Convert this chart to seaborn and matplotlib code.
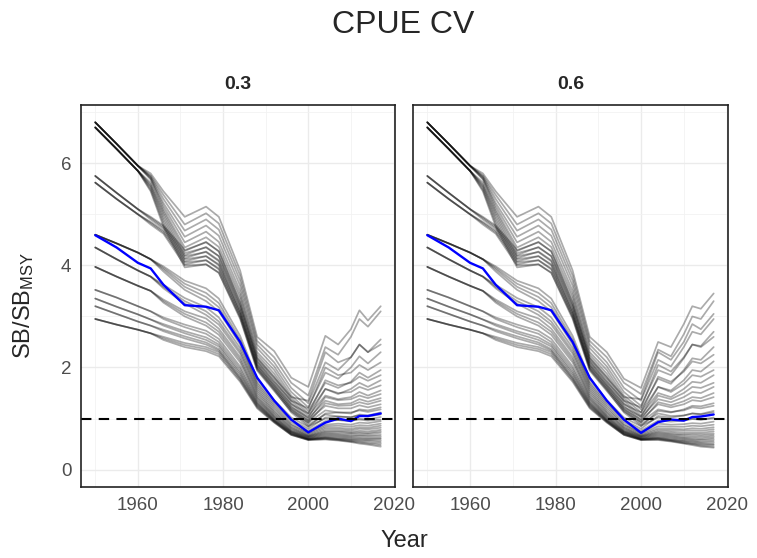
import pandas as pd
import seaborn as sns
import matplotlib.pyplot as plt
from matplotlib.ticker import MultipleLocator

# years (historical part is the same in both panels)
years_hist = [1950, 1955, 1960, 1963, 1966, 1971, 1976, 1979, 1984]
years_proj = [1988, 1992, 1996, 2000, 2004, 2007, 2010, 2012, 2014, 2017]

# SB/SBmsy per run, historical years
sb_hist = [
    [6.80, 6.38, 5.95, 5.80, 5.45, 4.95, 5.15, 4.95, 3.90],
    [6.80, 6.38, 5.95, 5.76, 5.38, 4.80, 5.02, 4.82, 3.80],
    [6.80, 6.38, 5.95, 5.74, 5.30, 4.68, 4.90, 4.70, 3.70],
    [6.80, 6.38, 5.95, 5.72, 5.22, 4.56, 4.78, 4.58, 3.60],
    [6.80, 6.38, 5.95, 5.70, 5.16, 4.45, 4.66, 4.46, 3.50],
    [6.80, 6.38, 5.95, 5.68, 5.10, 4.35, 4.55, 4.36, 3.42],
    [6.70, 6.28, 5.85, 5.62, 5.05, 4.28, 4.46, 4.27, 3.35],
    [6.70, 6.28, 5.85, 5.58, 5.00, 4.20, 4.36, 4.18, 3.28],
    [6.70, 6.28, 5.85, 5.55, 4.94, 4.14, 4.27, 4.10, 3.20],
    [6.70, 6.28, 5.85, 5.52, 4.88, 4.08, 4.18, 4.02, 3.12],
    [6.70, 6.28, 5.85, 5.48, 4.82, 4.02, 4.10, 3.94, 3.05],
    [6.70, 6.28, 5.85, 5.45, 4.76, 3.96, 4.02, 3.86, 2.98],
    [5.75, 5.42, 5.10, 4.95, 4.78, 4.30, 4.45, 4.28, 3.25],
    [5.75, 5.42, 5.10, 4.93, 4.75, 4.24, 4.35, 4.18, 3.18],
    [5.75, 5.42, 5.10, 4.90, 4.72, 4.18, 4.26, 4.08, 3.10],
    [5.62, 5.30, 5.00, 4.85, 4.68, 4.12, 4.18, 4.00, 3.05],
    [5.62, 5.30, 5.00, 4.83, 4.65, 4.06, 4.10, 3.92, 3.00],
    [5.62, 5.30, 5.00, 4.80, 4.62, 4.00, 4.02, 3.85, 2.95],
    [4.60, 4.43, 4.25, 4.12, 3.98, 3.70, 3.55, 3.35, 2.62],
    [4.60, 4.43, 4.25, 4.12, 3.95, 3.64, 3.46, 3.26, 2.55],
    [4.60, 4.43, 4.25, 4.12, 3.92, 3.58, 3.38, 3.18, 2.50],
    [4.60, 4.43, 4.25, 4.12, 3.88, 3.52, 3.30, 3.10, 2.45],
    [4.35, 4.12, 3.90, 3.78, 3.62, 3.36, 3.18, 2.98, 2.38],
    [4.35, 4.12, 3.90, 3.78, 3.58, 3.30, 3.10, 2.90, 2.32],
    [4.35, 4.12, 3.90, 3.78, 3.55, 3.25, 3.03, 2.84, 2.27],
    [3.97, 3.78, 3.60, 3.50, 3.33, 3.10, 2.96, 2.76, 2.20],
    [3.97, 3.78, 3.60, 3.50, 3.30, 3.05, 2.88, 2.70, 2.15],
    [3.97, 3.78, 3.60, 3.50, 3.27, 3.00, 2.82, 2.64, 2.10],
    [3.52, 3.37, 3.20, 3.10, 2.98, 2.84, 2.72, 2.56, 2.02],
    [3.52, 3.37, 3.20, 3.10, 2.95, 2.79, 2.66, 2.50, 1.97],
    [3.35, 3.19, 3.04, 2.94, 2.85, 2.71, 2.59, 2.45, 1.92],
    [3.35, 3.19, 3.04, 2.94, 2.82, 2.67, 2.54, 2.41, 1.88],
    [3.20, 3.05, 2.90, 2.82, 2.74, 2.61, 2.49, 2.36, 1.84],
    [3.20, 3.05, 2.90, 2.82, 2.71, 2.57, 2.45, 2.33, 1.80],
    [2.95, 2.84, 2.74, 2.67, 2.60, 2.48, 2.40, 2.30, 1.78],
    [2.95, 2.84, 2.74, 2.67, 2.57, 2.44, 2.36, 2.26, 1.75],
    [2.95, 2.84, 2.74, 2.67, 2.54, 2.40, 2.32, 2.22, 1.72],
]

# later years, CPUE CV = 0.3
sb_proj_03 = [
    [2.60, 2.32, 1.80, 1.62, 2.62, 2.45, 2.75, 3.12, 2.92, 3.20],
    [2.52, 2.20, 1.70, 1.45, 2.40, 2.25, 2.60, 2.95, 2.80, 3.10],
    [2.45, 2.10, 1.60, 1.30, 2.10, 1.95, 2.20, 2.45, 2.30, 2.55],
    [2.38, 2.02, 1.52, 1.22, 1.90, 1.78, 2.00, 2.22, 2.08, 2.30],
    [2.30, 1.95, 1.45, 1.15, 1.70, 1.60, 1.72, 1.90, 1.80, 1.95],
    [2.25, 1.88, 1.40, 1.10, 1.58, 1.48, 1.58, 1.70, 1.62, 1.75],
    [2.20, 1.82, 1.35, 1.05, 1.45, 1.38, 1.42, 1.52, 1.45, 1.55],
    [2.15, 1.76, 1.30, 1.00, 1.35, 1.28, 1.30, 1.38, 1.33, 1.40],
    [2.10, 1.70, 1.25, 0.96, 1.25, 1.20, 1.20, 1.26, 1.22, 1.28],
    [2.05, 1.65, 1.20, 0.92, 1.16, 1.12, 1.12, 1.16, 1.13, 1.18],
    [2.00, 1.60, 1.16, 0.88, 1.08, 1.04, 1.03, 1.06, 1.04, 1.08],
    [1.96, 1.56, 1.12, 0.85, 1.00, 0.97, 0.96, 0.98, 0.96, 0.98],
    [2.18, 1.80, 1.42, 1.35, 2.30, 2.10, 2.20, 2.45, 2.30, 2.45],
    [2.12, 1.72, 1.35, 1.20, 2.00, 1.85, 1.90, 2.05, 1.95, 2.10],
    [2.06, 1.66, 1.28, 1.10, 1.75, 1.65, 1.70, 1.82, 1.74, 1.85],
    [2.02, 1.62, 1.22, 1.02, 1.58, 1.50, 1.52, 1.62, 1.56, 1.65],
    [1.98, 1.58, 1.18, 0.96, 1.42, 1.36, 1.38, 1.45, 1.40, 1.48],
    [1.94, 1.54, 1.14, 0.92, 1.30, 1.25, 1.26, 1.32, 1.28, 1.35],
    [1.78, 1.36, 1.02, 0.84, 1.10, 1.12, 1.10, 1.18, 1.16, 1.22],
    [1.72, 1.31, 0.97, 0.80, 1.02, 1.04, 1.02, 1.08, 1.06, 1.12],
    [1.68, 1.27, 0.93, 0.76, 0.95, 0.97, 0.95, 1.00, 0.98, 1.03],
    [1.64, 1.23, 0.89, 0.73, 0.88, 0.90, 0.88, 0.92, 0.91, 0.95],
    [1.60, 1.19, 0.87, 0.71, 0.85, 0.86, 0.84, 0.87, 0.86, 0.90],
    [1.56, 1.15, 0.84, 0.69, 0.82, 0.82, 0.80, 0.83, 0.82, 0.86],
    [1.52, 1.12, 0.82, 0.67, 0.79, 0.79, 0.77, 0.80, 0.79, 0.82],
    [1.48, 1.09, 0.80, 0.66, 0.76, 0.76, 0.74, 0.76, 0.75, 0.78],
    [1.44, 1.06, 0.78, 0.65, 0.74, 0.74, 0.72, 0.73, 0.72, 0.75],
    [1.41, 1.04, 0.76, 0.64, 0.72, 0.71, 0.70, 0.71, 0.70, 0.72],
    [1.38, 1.02, 0.75, 0.63, 0.70, 0.69, 0.67, 0.68, 0.67, 0.68],
    [1.35, 1.00, 0.74, 0.62, 0.68, 0.67, 0.65, 0.66, 0.65, 0.65],
    [1.32, 0.98, 0.73, 0.61, 0.66, 0.65, 0.63, 0.63, 0.62, 0.62],
    [1.30, 0.97, 0.72, 0.60, 0.64, 0.63, 0.61, 0.61, 0.60, 0.60],
    [1.28, 0.96, 0.71, 0.60, 0.63, 0.61, 0.59, 0.59, 0.58, 0.57],
    [1.26, 0.95, 0.70, 0.59, 0.62, 0.60, 0.58, 0.57, 0.56, 0.54],
    [1.24, 0.94, 0.69, 0.59, 0.61, 0.59, 0.56, 0.55, 0.53, 0.51],
    [1.22, 0.93, 0.68, 0.58, 0.60, 0.58, 0.55, 0.53, 0.51, 0.48],
    [1.20, 0.92, 0.68, 0.58, 0.59, 0.57, 0.54, 0.51, 0.49, 0.45],
]

# later years, CPUE CV = 0.6
sb_proj_06 = [
    [2.60, 2.30, 1.78, 1.60, 2.50, 2.40, 2.85, 3.20, 3.15, 3.45],
    [2.52, 2.20, 1.70, 1.48, 2.35, 2.22, 2.65, 3.00, 2.95, 3.30],
    [2.45, 2.10, 1.60, 1.35, 2.15, 2.02, 2.40, 2.70, 2.65, 2.95],
    [2.38, 2.02, 1.52, 1.25, 1.95, 1.85, 2.18, 2.45, 2.42, 2.70],
    [2.30, 1.95, 1.45, 1.18, 1.78, 1.68, 1.95, 2.18, 2.15, 2.40],
    [2.25, 1.88, 1.40, 1.12, 1.62, 1.55, 1.75, 1.95, 1.92, 2.12],
    [2.20, 1.82, 1.35, 1.06, 1.50, 1.42, 1.58, 1.72, 1.70, 1.85],
    [2.15, 1.76, 1.30, 1.02, 1.38, 1.32, 1.42, 1.52, 1.50, 1.62],
    [2.10, 1.70, 1.25, 0.97, 1.28, 1.22, 1.28, 1.36, 1.34, 1.42],
    [2.05, 1.65, 1.20, 0.93, 1.18, 1.13, 1.16, 1.22, 1.20, 1.25],
    [2.00, 1.60, 1.16, 0.89, 1.10, 1.05, 1.06, 1.10, 1.08, 1.12],
    [1.96, 1.56, 1.12, 0.86, 1.02, 0.98, 0.98, 1.00, 0.98, 1.00],
    [2.18, 1.80, 1.42, 1.38, 2.30, 2.15, 2.50, 2.85, 2.75, 3.05],
    [2.12, 1.72, 1.35, 1.22, 2.05, 1.92, 2.20, 2.45, 2.40, 2.60],
    [2.06, 1.66, 1.28, 1.12, 1.82, 1.72, 1.92, 2.12, 2.08, 2.25],
    [2.02, 1.62, 1.22, 1.04, 1.62, 1.52, 1.68, 1.85, 1.82, 1.95],
    [1.98, 1.58, 1.18, 0.98, 1.45, 1.38, 1.50, 1.62, 1.60, 1.70],
    [1.94, 1.54, 1.14, 0.93, 1.32, 1.26, 1.34, 1.42, 1.40, 1.50],
    [1.78, 1.36, 1.02, 0.85, 1.15, 1.12, 1.18, 1.25, 1.24, 1.30],
    [1.72, 1.31, 0.97, 0.80, 1.05, 1.02, 1.06, 1.10, 1.09, 1.15],
    [1.68, 1.27, 0.93, 0.76, 0.96, 0.94, 0.96, 0.99, 0.98, 1.02],
    [1.64, 1.23, 0.89, 0.73, 0.90, 0.88, 0.89, 0.91, 0.90, 0.94],
    [1.60, 1.19, 0.87, 0.71, 0.85, 0.84, 0.84, 0.86, 0.85, 0.88],
    [1.56, 1.15, 0.84, 0.69, 0.81, 0.80, 0.79, 0.81, 0.80, 0.83],
    [1.52, 1.12, 0.82, 0.67, 0.78, 0.77, 0.76, 0.77, 0.76, 0.79],
    [1.48, 1.09, 0.80, 0.66, 0.75, 0.74, 0.72, 0.73, 0.72, 0.75],
    [1.44, 1.06, 0.78, 0.65, 0.73, 0.71, 0.69, 0.70, 0.69, 0.71],
    [1.41, 1.04, 0.76, 0.64, 0.71, 0.69, 0.67, 0.67, 0.66, 0.68],
    [1.38, 1.02, 0.75, 0.63, 0.69, 0.67, 0.64, 0.64, 0.63, 0.65],
    [1.35, 1.00, 0.74, 0.62, 0.67, 0.65, 0.62, 0.61, 0.60, 0.62],
    [1.32, 0.98, 0.73, 0.61, 0.65, 0.63, 0.60, 0.59, 0.58, 0.59],
    [1.30, 0.97, 0.72, 0.60, 0.63, 0.61, 0.58, 0.57, 0.55, 0.56],
    [1.28, 0.96, 0.71, 0.60, 0.62, 0.59, 0.56, 0.55, 0.53, 0.53],
    [1.26, 0.95, 0.70, 0.59, 0.61, 0.58, 0.55, 0.53, 0.51, 0.50],
    [1.24, 0.94, 0.69, 0.59, 0.60, 0.57, 0.53, 0.51, 0.49, 0.48],
    [1.22, 0.93, 0.68, 0.58, 0.59, 0.56, 0.52, 0.50, 0.47, 0.45],
    [1.20, 0.92, 0.68, 0.58, 0.58, 0.55, 0.51, 0.48, 0.45, 0.43],
]

# median (blue) line
median_hist = [4.59, 4.35, 4.05, 3.94, 3.62, 3.22, 3.19, 3.12, 2.50]
median_proj_03 = [1.80, 1.35, 0.98, 0.73, 0.92, 1.00, 0.95, 1.05, 1.05, 1.10]
median_proj_06 = [1.80, 1.35, 0.98, 0.72, 0.93, 0.98, 0.96, 1.03, 1.04, 1.08]

cv_labels = ['0.3', '0.6']
ref_level = 1.0

# long table
years = years_hist + years_proj
rows = []
for cv, proj in zip(cv_labels, [sb_proj_03, sb_proj_06]):
    for run, (h, p) in enumerate(zip(sb_hist, proj)):
        for yr, v in zip(years, h + p):
            rows.append({'cv': cv, 'run': run, 'year': yr, 'sb': v})
df = pd.DataFrame(rows)

med = pd.DataFrame({
    'cv': [c for c in cv_labels for _ in years],
    'year': years * 2,
    'sb': median_hist + median_proj_03 + median_hist + median_proj_06,
})

sns.set_style('white')
plt.rcParams['font.family'] = ['Liberation Sans', 'DejaVu Sans']
plt.rcParams['mathtext.fontset'] = 'custom'
plt.rcParams['mathtext.rm'] = 'Liberation Sans'
plt.rcParams['mathtext.default'] = 'regular'

fig = plt.figure(figsize=(7.57, 5.58), dpi=100)
ax1 = fig.add_axes([81 / 757, 1 - 487 / 558, 314 / 757, 382 / 558])
ax2 = fig.add_axes([413 / 757, 1 - 487 / 558, 315 / 757, 382 / 558])

for ax, cv in zip([ax1, ax2], cv_labels):
    ax.set_axisbelow(True)
    sns.lineplot(data=df[df['cv'] == cv], x='year', y='sb', units='run',
                 estimator=None, color='black', alpha=0.33, linewidth=1.25,
                 ax=ax, legend=False)
    sns.lineplot(data=med[med['cv'] == cv], x='year', y='sb', color='#0000FF',
                 linewidth=1.7, ax=ax, legend=False)
    ax.axhline(ref_level, color='black', linewidth=1.5, linestyle=(0, (5, 3.5)))

    ax.set_xlim(1946.65, 2020.35)
    ax.set_ylim(-0.34, 7.14)
    ax.xaxis.set_major_locator(MultipleLocator(20))
    ax.xaxis.set_minor_locator(MultipleLocator(10))
    ax.yaxis.set_major_locator(MultipleLocator(2))
    ax.yaxis.set_minor_locator(MultipleLocator(1))
    ax.grid(which='major', color='#EBEBEB', linewidth=1.0)
    ax.grid(which='minor', color='#F2F2F2', linewidth=0.6)
    for s in ax.spines.values():
        s.set_color('#222222')
        s.set_linewidth(1.2)
    ax.tick_params(which='major', length=4, width=1, color='#333333',
                   labelcolor='#4D4D4D', labelsize=13.5, pad=3)
    ax.tick_params(which='minor', length=0)
    ax.set_xlabel('')
    ax.set_ylabel('')
    pos = ax.get_position()
    fig.text((pos.x0 + pos.x1) / 2, 1 - 85 / 558, cv, ha='center', va='center',
             fontsize=14, fontweight='bold')

ax2.tick_params(axis='y', which='both', left=False, labelleft=False)

fig.text(403 / 757, 1 - 25 / 558, 'CPUE CV', ha='center', va='center', fontsize=23)
fig.text(404 / 757, 1 - 541 / 558, 'Year', ha='center', va='center', fontsize=17)
fig.text(24 / 757, 1 - 305 / 558, 'SB/SB$_{MSY}$', ha='center', va='center',
         rotation=90, fontsize=17)

fig.savefig('out.png', dpi=100)
